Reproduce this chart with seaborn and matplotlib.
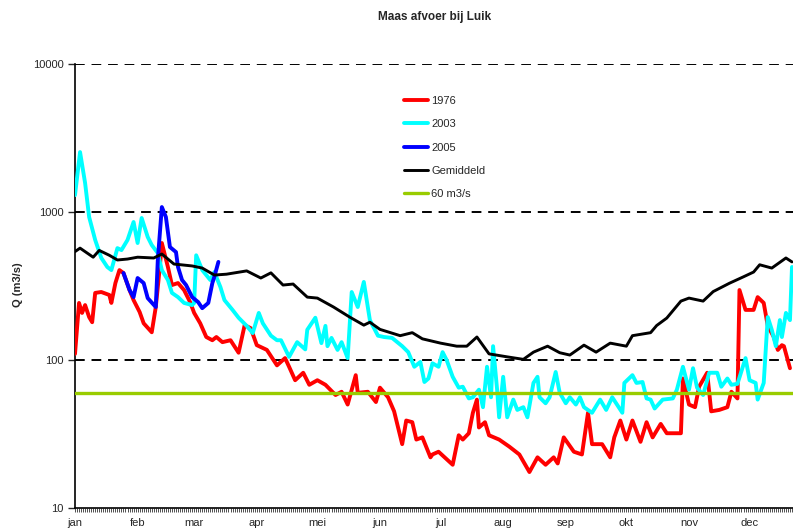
import numpy as np
import pandas as pd
import matplotlib
matplotlib.use("Agg")
import matplotlib.pyplot as plt
import seaborn as sns

# dagnummer (0 = 1 jan) en afvoer in m3/s
dag_1976 = [0, 2, 3.5, 5, 7, 8.5, 10, 13, 17, 18, 20, 22, 24, 27, 29, 32, 34, 38, 40, 42,
            43, 46, 48, 51, 54, 57, 59, 62, 65, 68, 70, 73, 77, 81, 84, 87, 90, 95, 100, 104,
            106, 109, 113, 116, 120, 124, 129, 132, 135, 139, 140, 145, 149, 151, 155, 158, 162, 164, 167, 169,
            172, 176, 177, 180, 183, 187, 190, 192, 195, 197, 199, 200, 203, 205, 210, 215, 220, 225, 229, 233,
            237, 239, 242, 247, 251, 254, 256, 261, 265, 267, 270, 273, 276, 280, 283, 286, 290, 293, 300, 301,
            304, 307, 309, 313, 315, 319, 323, 325, 328, 329, 332, 336, 338, 341, 343, 346, 348, 350, 351, 354]
q_1976 = [110, 243, 208, 235, 195, 180, 284, 288, 275, 243, 331, 405, 387, 297, 254, 211, 177, 154, 228, 425,
          617, 425, 321, 331, 297, 246, 208, 177, 143, 136, 143, 132, 136, 112, 172, 164, 126, 117, 92, 103,
          90, 73, 82, 68, 73, 68, 58, 61, 50, 79, 60, 61, 52, 65, 56, 45, 27, 39, 38, 29,
          30, 22, 23, 24, 22, 19.6, 31, 29, 32, 44, 54, 35, 38, 31, 29, 26, 23, 17.5, 22, 19.6,
          22, 20, 30, 24, 23, 44, 27, 27, 22, 30, 39, 29, 39, 28, 38, 30, 37, 32, 32, 75,
          50, 48, 66, 82, 45, 46, 48, 61, 55, 297, 218, 218, 266, 243, 170, 143, 117, 126, 124, 88]

dag_2003 = [0, 2.5, 5, 7, 10, 13, 16, 18, 21, 23, 26, 29, 31, 33, 36, 38, 41, 43, 46, 48,
            51, 54, 58, 59, 60, 63, 67, 69, 72, 74, 78, 81, 85, 88, 91, 93, 97, 100, 102, 106,
            110, 114, 115, 119, 122, 124, 125, 127, 130, 132, 135, 137, 140, 143, 146, 150, 153, 157, 162, 165,
            168, 171, 173, 175, 177, 180, 182, 184, 187, 190, 192, 195, 197, 200, 202, 204, 206, 207, 209, 210,
            212, 214, 217, 219, 222, 224, 227, 229, 230, 233, 235, 238, 240, 243, 245, 248, 250, 252, 256, 260,
            263, 266, 271, 272, 276, 278, 281, 283, 285, 287, 291, 296, 298, 301, 304, 306, 308, 311, 314, 318,
            320, 323, 325, 328, 332, 334, 337, 338, 341, 343, 345, 347, 349, 350, 352, 354, 355]
q_2003 = [1300, 2540, 1570, 925, 647, 490, 425, 405, 570, 553, 647, 856, 617, 911, 678, 598, 528, 405, 347, 284,
          266, 243, 235, 243, 510, 405, 347, 393, 311, 254, 218, 193, 170, 152, 208, 177, 146, 136, 136, 105,
          132, 118, 160, 193, 130, 170, 124, 141, 117, 132, 103, 288, 228, 337, 186, 146, 143, 141, 124, 113,
          90, 97, 71, 75, 95, 90, 113, 100, 77, 65, 66, 55, 56, 63, 48, 90, 56, 124, 63, 41,
          77, 41, 54, 46, 48, 41, 70, 77, 56, 51, 56, 83, 60, 51, 56, 50, 56, 48, 44, 54,
          46, 56, 44, 70, 79, 70, 71, 55, 54, 47, 54, 55, 63, 90, 63, 88, 65, 58, 82, 82,
          66, 75, 68, 69, 103, 73, 70, 54, 70, 195, 160, 124, 186, 143, 208, 186, 425]

dag_2005 = [24, 27, 29, 31, 34, 36, 40, 41, 43, 45, 47, 50, 51, 53, 55, 58, 61, 63, 66, 68, 69, 71]
q_2005 = [387, 297, 266, 358, 331, 262, 228, 474, 1080, 925, 580, 536, 425, 347, 321, 266, 246, 224, 243, 331,
          365, 460]

dag_gem = [0, 2.5, 9, 12, 17, 21, 26, 31, 39, 43, 49, 58, 63, 69, 75, 85, 92, 97, 103, 108,
           115, 120, 128, 136, 143, 146, 151, 161, 167, 172, 181, 189, 194, 199, 205, 214, 222, 227, 234, 240,
           245, 252, 258, 265, 273, 276, 285, 288, 293, 300, 304, 311, 316, 324, 331, 336, 339, 345, 352, 355]
q_gem = [540, 570, 495, 550, 510, 474, 481, 495, 489, 520, 445, 432, 418, 375, 380, 400, 358, 388, 321, 326,
         266, 262, 228, 195, 172, 180, 161, 146, 153, 139, 130, 124, 124, 143, 110, 105, 101, 113, 124, 112,
         108, 126, 113, 130, 124, 146, 153, 171, 192, 250, 262, 250, 290, 330, 365, 393, 440, 418, 489, 460]

grens = 60
maand_dag = [0, 31, 59, 90, 120, 151, 181, 212, 243, 273, 304, 334]
maanden = ["jan", "feb", "mar", "apr", "mei", "jun", "jul", "aug", "sep", "okt", "nov", "dec"]
y_ticks = [10, 100, 1000, 10000]

sns.set_style("white")
plt.rcParams["font.family"] = ["Liberation Sans", "DejaVu Sans"]

fig = plt.figure(figsize=(7.93, 5.31), dpi=100)
ax = fig.add_axes([75 / 793, 23 / 531, 718 / 793, 444 / 531])

# gestreepte hulplijnen
for v in [100, 1000, 10000]:
    ax.axhline(v, color="black", lw=1.4, ls=(0, (5, 3.5)), zorder=1)

reeksen = [
    ("1976", dag_1976, q_1976, "#ff0000", 2.8),
    ("2003", dag_2003, q_2003, "#00ffff", 2.8),
    ("2005", dag_2005, q_2005, "#0000ff", 2.8),
    ("Gemiddeld", dag_gem, q_gem, "#000000", 2.1),
]
for naam, d, q, kleur, lw in reeksen:
    df = pd.DataFrame({"dag": d, "q": q})
    sns.lineplot(data=df, x="dag", y="q", color=kleur, lw=lw, label=naam, ax=ax, zorder=3)
ax.axhline(grens, color="#99cc00", lw=2.4, label="60 m3/s", zorder=4)

ax.set_yscale("log")
ax.set_ylim(10, 10000)
ax.set_xlim(0, 355.5)
ax.set_yticks(y_ticks)
ax.set_yticklabels([str(v) for v in y_ticks], fontsize=8)
ax.yaxis.set_minor_locator(matplotlib.ticker.NullLocator())
ax.set_xticks(maand_dag)
ax.set_xticklabels(maanden, fontsize=8)
ax.set_xticks(np.arange(0, 356), minor=True)
ax.tick_params(axis="x", which="both", direction="out", length=3, width=0.6, color="#333333", pad=4,
               bottom=True)
ax.tick_params(axis="y", which="major", direction="out", length=5, width=1, left=True, pad=3)
ax.set_xlabel("")
ax.set_ylabel("")

for s in ["top", "right"]:
    ax.spines[s].set_visible(False)
for s in ["left", "bottom"]:
    ax.spines[s].set_color("black")
    ax.spines[s].set_linewidth(1.2)

fig.text(435 / 793, 1 - 17 / 531, "Maas afvoer bij Luik", ha="center", va="center",
         fontsize=8.5, fontweight="bold")
fig.text(18 / 793, 1 - 285 / 531, "Q (m3/s)", ha="center", va="center", rotation=90,
         fontsize=8, fontweight="bold")

ax.legend(loc="upper left", bbox_to_anchor=(404 / 793, 1 - 96 / 531), bbox_transform=fig.transFigure,
          frameon=False, fontsize=8, handlelength=2.2, handletextpad=0.25, labelspacing=1.2,
          borderpad=0, borderaxespad=0)

fig.savefig("out.png", dpi=100)
